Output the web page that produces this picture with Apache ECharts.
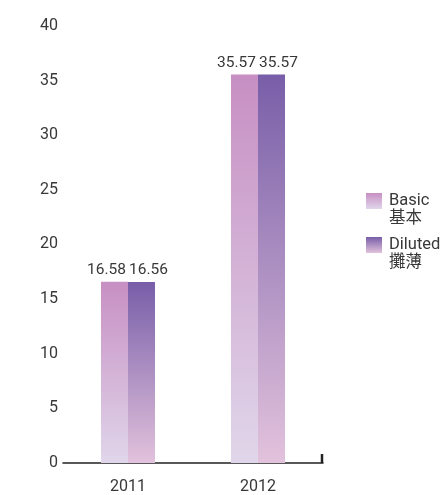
<!DOCTYPE html>
<html><head><meta charset="utf-8">
<script src="https://cdn.jsdelivr.net/npm/echarts@6/dist/echarts.min.js"></script>
<style>html,body{margin:0;padding:0;background:#fff}#c{width:445px;height:495px}</style>
</head><body><div id="c"></div>
<script>
const categories = ['2011', '2012'];
const basicValues = [16.58, 35.57];
const dilutedValues = [16.56, 35.57];
const seriesNames = ['Basic\n基本', 'Diluted\n攤薄'];

const FONT = 'Roboto, "Noto Sans CJK TC", sans-serif';
const TXT = '#383838';
function grad(top, bottom) {
  return new echarts.graphic.LinearGradient(0, 0, 0, 1, [
    {offset: 0, color: top}, {offset: 1, color: bottom}
  ]);
}
const chart = echarts.init(document.getElementById('c'));
const labelBase = {show: true, color: TXT, fontSize: 15.5, fontFamily: FONT, verticalAlign: 'bottom'};
chart.setOption({
  animation: false,
  grid: {left: 63, right: 122, top: 26, bottom: 31},
  legend: {
    orient: 'vertical', left: 366, top: 174, padding: 0,
    itemWidth: 16, itemHeight: 16, itemGap: -10,
    icon: 'rect',
    formatter: function (name) { return ' \n' + name; },
    textStyle: {color: TXT, fontSize: 16.5, fontFamily: FONT, lineHeight: 18, padding: [0, 0, 0, 2]},
    data: seriesNames
  },
  xAxis: {
    type: 'category', data: categories,
    axisLine: {lineStyle: {color: '#222', width: 1.5}},
    axisTick: {show: false},
    axisLabel: {color: TXT, fontSize: 16, fontFamily: FONT, margin: 16}
  },
  yAxis: {
    type: 'value', min: 0, max: 40, interval: 5,
    axisLine: {show: false}, axisTick: {show: false}, splitLine: {show: false},
    axisLabel: {color: TXT, fontSize: 16, fontFamily: FONT, margin: 5}
  },
  series: [
    {name: seriesNames[0], type: 'bar', data: basicValues, barWidth: 27, barGap: '0%',
     itemStyle: {color: grad('#c78fc3', '#e0d6ea')},
     label: Object.assign({position: ['100%', -4], align: 'right', offset: [-2, 0]}, labelBase)},
    {name: seriesNames[1], type: 'bar', data: dilutedValues, barWidth: 27, barGap: '0%',
     itemStyle: {color: grad('#785ea8', '#e2c2dc')},
     label: Object.assign({position: [0, -4], align: 'left', offset: [1, 0]}, labelBase)}
  ]
});
// small end tick at the right end of the x axis
const rect = chart.getModel().getComponent('grid').coordinateSystem.getRect();
chart.setOption({
  graphic: [{type: 'line', shape: {x1: rect.x + rect.width - 1, y1: rect.y + rect.height - 9, x2: rect.x + rect.width - 1, y2: rect.y + rect.height},
    style: {stroke: '#222', lineWidth: 2.5}}]
});
</script></body></html>
